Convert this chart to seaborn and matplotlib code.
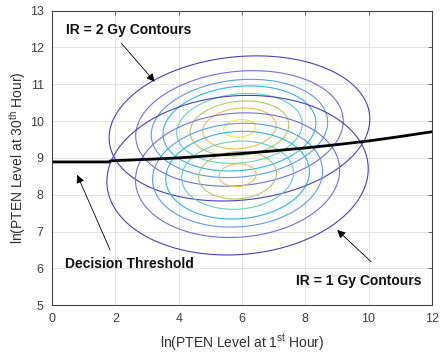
import numpy as np
import matplotlib
matplotlib.use("Agg")
import matplotlib.pyplot as plt
import seaborn as sns
import pandas as pd

# ---- data ----
# Gaussian contour parameters (mean x, mean y, std x, std y, correlation)
gy2_mean = [5.92, 9.80]
gy2_std = [1.76, 0.842]
gy2_rho = 0.13
gy1_mean = [5.86, 8.53]
gy1_std = [1.82, 0.955]
gy1_rho = 0.08
contour_levels = [0.0070, 0.0191, 0.0309, 0.0422, 0.0574, 0.0731, 0.0872, 0.1040]
contour_colors = ["#4b3fc0", "#6f6fe6", "#5a9cf0", "#2fb4e6", "#5fd2c0",
                  "#b3c85c", "#f6bc4c", "#f2ea30"]

thr_x = [0, 1.8, 1.85, 3, 4, 5, 6, 7, 8, 9, 10, 11, 12]
thr_y = [8.89, 8.89, 8.92, 8.96, 9.00, 9.06, 9.12, 9.19, 9.27, 9.36, 9.46, 9.58, 9.71]

x_ticks = [0, 2, 4, 6, 8, 10, 12]
y_ticks = [5, 6, 7, 8, 9, 10, 11, 12, 13]


def gauss2d(X, Y, mean, std, rho):
    zx = (X - mean[0]) / std[0]
    zy = (Y - mean[1]) / std[1]
    q = (zx**2 - 2 * rho * zx * zy + zy**2) / (1 - rho**2)
    return np.exp(-q / 2) / (2 * np.pi * std[0] * std[1] * np.sqrt(1 - rho**2))


sns.set_style("whitegrid")
plt.rcParams["font.family"] = ["Liberation Sans", "DejaVu Sans"]
plt.rcParams["mathtext.fontset"] = "custom"
plt.rcParams["mathtext.rm"] = "Liberation Sans"
plt.rcParams["mathtext.it"] = "Liberation Sans:italic"

fig = plt.figure(figsize=(4.42, 3.54), dpi=100)
ax = fig.add_axes([0.118, 0.138, 0.859, 0.832])

gx = np.linspace(-1, 13, 600)
gy = np.linspace(4, 14, 600)
X, Y = np.meshgrid(gx, gy)
Z2 = gauss2d(X, Y, gy2_mean, gy2_std, gy2_rho)
Z1 = gauss2d(X, Y, gy1_mean, gy1_std, gy1_rho)

ax.contour(X, Y, Z2, levels=contour_levels, colors=contour_colors, linewidths=0.8)
ax.contour(X, Y, Z1, levels=contour_levels, colors=contour_colors, linewidths=0.8)

df = pd.DataFrame({"x": thr_x, "y": thr_y})
sns.lineplot(data=df, x="x", y="y", ax=ax, color="black", linewidth=2.0,
             sort=False, estimator=None)

ax.set_xlim(0, 12)
ax.set_ylim(5, 13)
ax.set_xticks(x_ticks)
ax.set_yticks(y_ticks)
ax.grid(True, color="#e3e3e3", linewidth=0.7)
for s in ax.spines.values():
    s.set_color("#444444")
    s.set_linewidth(0.8)
ax.tick_params(direction="in", length=3, width=0.6, colors="#555555",
               labelsize=9, labelcolor="#404040", top=True, right=True)
ax.tick_params(axis="x", pad=6)
ax.tick_params(axis="y", pad=6)

ax.set_xlabel(r"ln(PTEN Level at 1$^{\rm st}$ Hour)", fontsize=10, color="#303030", labelpad=5)
ax.set_ylabel(r"ln(PTEN Level at 30$^{\rm th}$ Hour)", fontsize=10, color="#303030", labelpad=1)

aprops = dict(arrowstyle="-|>", color="black", lw=0.6, mutation_scale=12,
              shrinkA=0, shrinkB=0)
ax.annotate("", xy=(3.24, 11.07), xytext=(2.19, 12.11), arrowprops=aprops)
ax.annotate("", xy=(0.79, 8.54), xytext=(1.83, 6.50), arrowprops=aprops)
ax.annotate("", xy=(9.01, 7.04), xytext=(10.08, 6.18), arrowprops=aprops)

ax.text(0.45, 12.48, "IR = 2 Gy Contours", fontsize=10, fontweight="bold",
        ha="left", va="center", color="#111111")
ax.text(0.40, 6.11, "Decision Threshold", fontsize=10, fontweight="bold",
        ha="left", va="center", color="#111111")
ax.text(7.72, 5.66, "IR = 1 Gy Contours", fontsize=10, fontweight="bold",
        ha="left", va="center", color="#111111")

fig.savefig("out.png", dpi=100)
